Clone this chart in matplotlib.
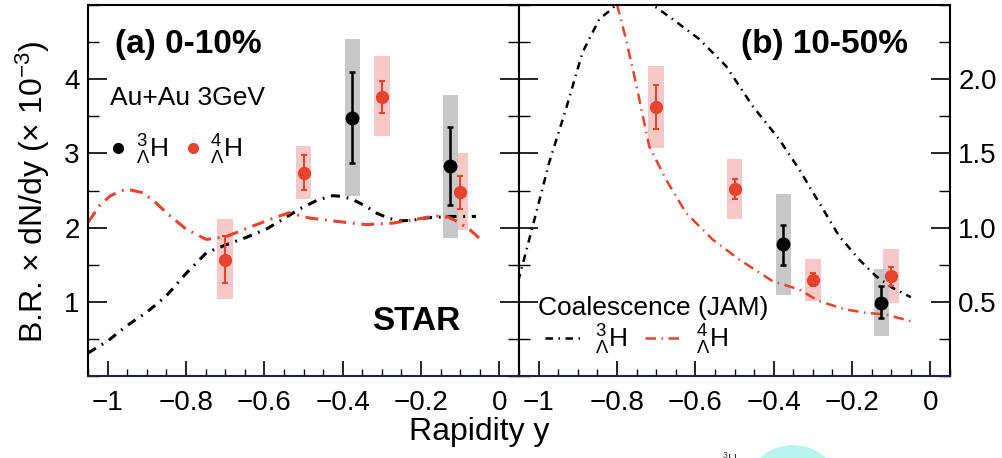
import numpy as np
import matplotlib
matplotlib.use("Agg")
import matplotlib.pyplot as plt
from matplotlib.lines import Line2D
from matplotlib.patches import Ellipse
from matplotlib.ticker import MultipleLocator, FixedLocator, FuncFormatter

plt.rcParams['font.family'] = ['Liberation Sans', 'DejaVu Sans']
plt.rcParams['mathtext.fontset'] = 'custom'
plt.rcParams['mathtext.rm'] = 'Liberation Sans'
plt.rcParams['mathtext.it'] = 'Liberation Sans:italic'
plt.rcParams['mathtext.bf'] = 'Liberation Sans:bold'

##### Datos (a) 0-10%
h3_x_a = [-0.375, -0.125]
h3_y_a = [3.48, 2.83]
h3_stat_lo_a = [2.87, 2.30]
h3_stat_hi_a = [4.10, 3.36]
h3_sys_lo_a = [2.43, 1.86]
h3_sys_hi_a = [4.54, 3.79]

h4_x_a = [-0.70, -0.50, -0.30, -0.10]
h4_y_a = [1.57, 2.74, 3.76, 2.48]
h4_stat_lo_a = [1.25, 2.51, 3.55, 2.25]
h4_stat_hi_a = [1.89, 2.98, 3.98, 2.70]
h4_sys_lo_a = [1.04, 2.39, 3.23, 1.97]
h4_sys_hi_a = [2.11, 3.10, 4.31, 3.00]

# JAM (a)
jam3_x_a = [-1.05, -1.00, -0.953, -0.90, -0.85, -0.80, -0.748, -0.697, -0.645, -0.595, -0.55, -0.51,
            -0.465, -0.426, -0.40, -0.375, -0.345, -0.315, -0.285, -0.256, -0.22, -0.188, -0.128, -0.06]
jam3_y_a = [0.31, 0.47, 0.67, 0.86, 1.08, 1.38, 1.66, 1.77, 1.87, 1.98, 2.12, 2.25,
            2.37, 2.43, 2.42, 2.38, 2.30, 2.20, 2.13, 2.09, 2.10, 2.13, 2.15, 2.15]
jam4_x_a = [-1.05, -1.02, -0.993, -0.953, -0.91, -0.88, -0.85, -0.80, -0.748, -0.697, -0.63, -0.58,
            -0.537, -0.486, -0.426, -0.34, -0.273, -0.214, -0.163, -0.13, -0.103, -0.075, -0.052]
jam4_y_a = [2.07, 2.30, 2.43, 2.52, 2.47, 2.35, 2.20, 1.98, 1.84, 1.88, 2.02, 2.12,
            2.20, 2.13, 2.09, 2.04, 2.06, 2.11, 2.16, 2.14, 2.07, 1.97, 1.86]

##### Datos (b) 10-50%
h3_x_b = [-0.375, -0.125]
h3_y_b = [0.887, 0.493]
h3_stat_lo_b = [0.747, 0.392]
h3_stat_hi_b = [1.02, 0.605]
h3_sys_lo_b = [0.549, 0.268]
h3_sys_hi_b = [1.224, 0.718]

h4_x_b = [-0.70, -0.50, -0.30, -0.10]
h4_y_b = [1.813, 1.258, 0.646, 0.673]
h4_stat_lo_b = [1.663, 1.19, 0.605, 0.605]
h4_stat_hi_b = [1.962, 1.325, 0.691, 0.736]
h4_sys_lo_b = [1.539, 1.055, 0.504, 0.493]
h4_sys_hi_b = [2.09, 1.46, 0.79, 0.853]

# JAM (b)
jam3_x_b = [-1.052, -1.015, -0.973, -0.93, -0.888, -0.845, -0.81, -0.765, -0.712, -0.658, -0.59,
            -0.522, -0.454, -0.386, -0.335, -0.284, -0.233, -0.182, -0.139, -0.097, -0.05]
jam3_y_b = [0.639, 1.01, 1.438, 1.80, 2.18, 2.405, 2.48, 2.62, 2.506, 2.405, 2.27,
            2.09, 1.82, 1.595, 1.393, 1.168, 0.943, 0.785, 0.673, 0.594, 0.531]
jam4_x_b = [-0.80, -0.777, -0.752, -0.718, -0.675, -0.624, -0.556, -0.488, -0.403, -0.335,
            -0.284, -0.216, -0.165, -0.114, -0.049]
jam4_y_b = [2.506, 2.27, 1.978, 1.55, 1.325, 1.10, 0.92, 0.785, 0.639, 0.583,
            0.504, 0.448, 0.426, 0.414, 0.369]

yticks_a = [1, 2, 3, 4]
yticks_b = [0.5, 1.0, 1.5, 2.0]

rojo = '#e8432d'
gris_sys = '#c8c8c8'
rosa_sys = '#f6c8c8'
ls_negro = (0, (3.0, 2.2, 0.6, 2.2))
ls_rojo = (0, (4.2, 2.2, 0.6, 2.2))


def fmt_x(v, pos):
    return f'{round(v, 2):g}'.replace('-', '\u2212')


def dibujar_puntos(ax, x, y, lo, hi, slo, shi, color, caja, ms, lw):
    x = np.array(x); y = np.array(y)
    ax.bar(x, np.array(shi) - np.array(slo), bottom=slo, width=0.04,
           color=caja, edgecolor='none', zorder=1)
    yerr = [y - np.array(lo), np.array(hi) - y]
    ax.errorbar(x, y, yerr=yerr, fmt='o', color=color, ms=ms, elinewidth=lw,
                capsize=2.5, capthick=lw, zorder=4)


def estilo_ejes(ax, ymax, yticks, ymin, derecha):
    ax.set_xlim(-1.05, 0.05)
    ax.set_ylim(0, ymax)
    ax.xaxis.set_major_locator(MultipleLocator(0.2))
    ax.xaxis.set_minor_locator(MultipleLocator(0.05))
    ax.yaxis.set_major_locator(FixedLocator(yticks))
    ax.yaxis.set_minor_locator(MultipleLocator(ymin))
    ax.xaxis.set_major_formatter(FuncFormatter(fmt_x))
    ax.tick_params(axis='x', which='both', direction='in', top=False, labelsize=20, pad=10)
    ax.tick_params(axis='x', which='major', length=11, width=1.2)
    ax.tick_params(axis='x', which='minor', length=5, width=1.0)
    ax.tick_params(axis='y', which='both', direction='in', left=True, right=True, labelsize=20,
                   labelleft=not derecha, labelright=derecha, pad=6)
    ax.tick_params(axis='y', which='major', length=14, width=1.2)
    ax.tick_params(axis='y', which='minor', length=8, width=1.0)
    for s in ax.spines.values():
        s.set_linewidth(1.5)
    ax.spines['bottom'].set_color('#1e2244')


fig = plt.figure(figsize=(10.03, 4.58), dpi=100)
W, H = 1003.0, 458.0
ax1 = fig.add_axes([88 / W, 82 / H, (519 - 88) / W, (376 - 5) / H])
ax2 = fig.add_axes([519 / W, 82 / H, (950 - 519) / W, (376 - 5) / H])

# (a)
estilo_ejes(ax1, 5, yticks_a, 0.5, False)
ax1.plot(jam3_x_a, jam3_y_a, color='black', lw=2.2, ls=ls_negro, zorder=2)
ax1.plot(jam4_x_a, jam4_y_a, color=rojo, lw=2.2, ls=ls_rojo, zorder=2)
dibujar_puntos(ax1, h4_x_a, h4_y_a, h4_stat_lo_a, h4_stat_hi_a, h4_sys_lo_a, h4_sys_hi_a,
               rojo, rosa_sys, 8.5, 1.5)
dibujar_puntos(ax1, h3_x_a, h3_y_a, h3_stat_lo_a, h3_stat_hi_a, h3_sys_lo_a, h3_sys_hi_a,
               'black', gris_sys, 9, 1.8)
ax1.text(0.062, 0.893, '(a) 0-10%', transform=ax1.transAxes, fontsize=24, fontweight='bold',
         va='center', ha='left')
ax1.text(0.05, 0.75, 'Au+Au 3GeV', transform=ax1.transAxes, fontsize=19, va='center', ha='left')
ax1.text(0.66, 0.147, 'STAR', transform=ax1.transAxes, fontsize=24, fontweight='bold',
         va='center', ha='left')
marcas = [Line2D([], [], marker='o', ls='none', color='black', ms=7),
          Line2D([], [], marker='o', ls='none', color=rojo, ms=7)]
ax1.legend(marcas, [r'$^{3}_{\Lambda}$H', r'$^{4}_{\Lambda}$H'], ncol=2, frameon=False,
           fontsize=19, loc='center left', bbox_to_anchor=(0.0, 0.61),
           handletextpad=-0.1, columnspacing=0.2, handlelength=1.5, borderaxespad=0)

# (b)
estilo_ejes(ax2, 2.5, yticks_b, 0.25, True)
ax2.yaxis.set_major_formatter(FuncFormatter(lambda v, p: f'{v:.1f}'))
l3, = ax2.plot(jam3_x_b, jam3_y_b, color='black', lw=1.8, ls=ls_negro, zorder=2)
l4, = ax2.plot(jam4_x_b, jam4_y_b, color=rojo, lw=1.8, ls=ls_rojo, zorder=2)
dibujar_puntos(ax2, h4_x_b, h4_y_b, h4_stat_lo_b, h4_stat_hi_b, h4_sys_lo_b, h4_sys_hi_b,
               rojo, rosa_sys, 8.5, 1.5)
dibujar_puntos(ax2, h3_x_b, h3_y_b, h3_stat_lo_b, h3_stat_hi_b, h3_sys_lo_b, h3_sys_hi_b,
               'black', gris_sys, 9, 1.8)
ax2.text(0.515, 0.893, '(b) 10-50%', transform=ax2.transAxes, fontsize=24, fontweight='bold',
         va='center', ha='left')
ax2.text(0.044, (376 - 308) / 371, 'Coalescence (JAM)', transform=ax2.transAxes, fontsize=19,
         va='center', ha='left')
ax2.legend([l3, l4], [r'$^{3}_{\Lambda}$H', r'$^{4}_{\Lambda}$H'], ncol=2, frameon=False,
           fontsize=19, loc='center left', bbox_to_anchor=(0.035, (376 - 340) / 371),
           handlelength=1.35, handletextpad=0.55, columnspacing=0.7, borderaxespad=0)

fig.text(33 / W, 1 - 192 / H, r'B.R. $\times$ dN/dy ($\times$ 10$^{-3}$)', rotation=90,
         fontsize=23, ha='center', va='center')
fig.text(1 - 0.522, 1 - 432 / H, 'Rapidity y', fontsize=23, ha='center', va='center')

# recorte de fondo en la esquina inferior
fig.patches.append(Ellipse((793 / W, 1 - 478 / H), 82 / W, 66 / H, transform=fig.transFigure,
                           facecolor='#b8f5ef', edgecolor='none'))
fig.text(722 / W, 1 - 459 / H, r'$^{3}$H', fontsize=9, ha='left', va='center', color='#333333')

fig.savefig('out.png', dpi=100)
